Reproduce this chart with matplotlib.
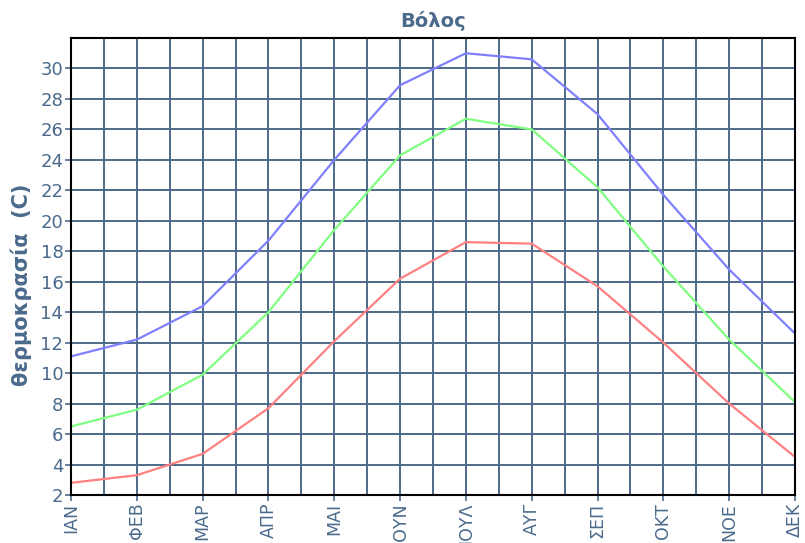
"""Volos monthly temperatures: max / mean / min lines on a dense grid."""

import matplotlib
matplotlib.use("Agg")
import matplotlib.pyplot as plt
import numpy as np
from matplotlib.ticker import MultipleLocator

MONTHS = ["ΙΑΝ", "ΦΕΒ", "ΜΑΡ", "ΑΠΡ", "ΜΑΙ", "ΙΟΥΝ",
          "ΙΟΥΛ", "ΑΥΓ", "ΣΕΠ", "ΟΚΤ", "ΝΟΕ", "ΔΕΚ"]
T_MAX = [11.1, 12.2, 14.4, 18.7, 24.0, 28.9, 31.0, 30.6, 27.0, 21.7, 16.8, 12.6]
T_MEAN = [6.5, 7.6, 9.9, 14.0, 19.4, 24.3, 26.7, 26.0, 22.2, 17.0, 12.2, 8.1]
T_MIN = [2.8, 3.3, 4.7, 7.7, 12.1, 16.2, 18.6, 18.5, 15.7, 12.0, 8.0, 4.5]

TEXT = "#4a6a8c"
GRID = "#4d6a8a"


def main():
    x = np.arange(len(MONTHS))

    fig = plt.figure(figsize=(8.05, 5.43), dpi=100)
    ax = fig.add_axes([71 / 805, 1 - 495 / 543, (795 - 71) / 805, (495 - 38) / 543])

    ax.plot(x, T_MAX, color="#8080ff", lw=1.6, zorder=3)
    ax.plot(x, T_MEAN, color="#80ff80", lw=1.6, zorder=3)
    ax.plot(x, T_MIN, color="#ff8080", lw=1.6, zorder=3)

    ax.set_xlim(0, len(MONTHS) - 1)
    ax.set_ylim(2, 32)
    ax.set_xticks(x)
    ax.set_xticklabels(MONTHS, rotation=90, fontsize=12.5, color=TEXT)
    ax.xaxis.set_minor_locator(MultipleLocator(0.5))
    ax.set_yticks(np.arange(2, 31, 2))
    for lab in ax.get_yticklabels():
        lab.set_fontsize(13)
        lab.set_color(TEXT)

    ax.grid(True, which="both", axis="x", color=GRID, lw=1.4)
    ax.grid(True, which="major", axis="y", color=GRID, lw=1.4)
    ax.set_axisbelow(True)
    ax.tick_params(axis="both", which="major", length=4, width=1.2, color=GRID, pad=1.5)
    ax.tick_params(axis="x", which="minor", length=0)
    for sp in ax.spines.values():
        sp.set_color("black")
        sp.set_linewidth(1.5)
        sp.set_zorder(4)

    ax.set_title("Βόλος", fontsize=14, fontweight="bold", color=TEXT, pad=8)
    ax.set_ylabel("θερμοκρασία  (C)", fontsize=15, fontweight="bold", color=TEXT)
    ax.yaxis.set_label_coords(-0.054, 0.46)

    fig.savefig("out.png", dpi=100)


if __name__ == "__main__":
    main()
